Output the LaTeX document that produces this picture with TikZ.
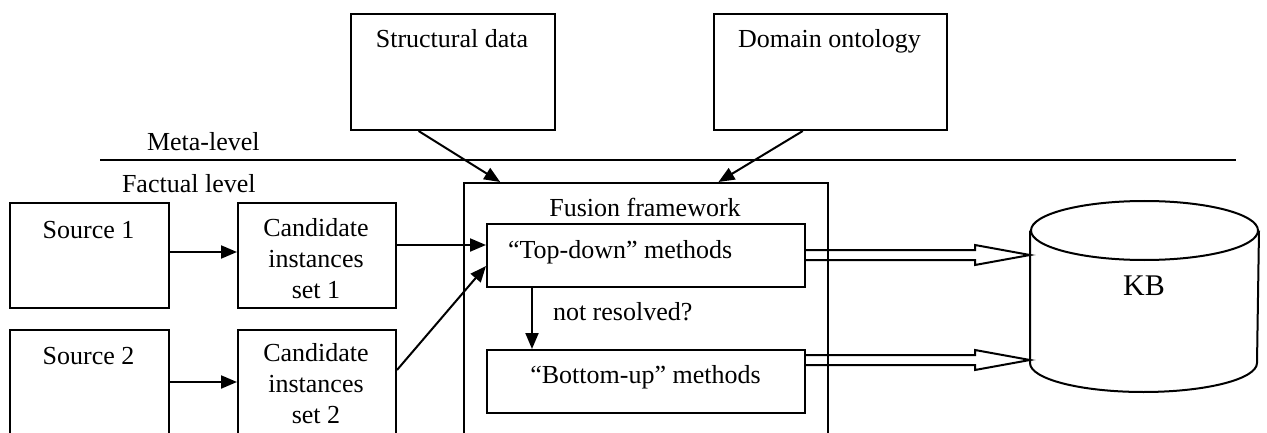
\documentclass[tikz,border=0pt]{standalone}
\usepackage{fontspec}
\setmainfont{Liberation Serif}
\usetikzlibrary{arrows.meta,calc}
\begin{document}
\begin{tikzpicture}[x=1pt,y=-1pt,line width=2pt,
  box/.style={draw, rectangle, inner sep=0pt, anchor=north west},
  txt/.style={font=\fontsize{26}{31}\selectfont, inner sep=0pt, align=center},
  arr/.style={-{Triangle[length=16pt,width=13pt]}}]
\useasboundingbox (0,0) rectangle (1267,433);
\clip (0,0) rectangle (1267,433);
% level coordinates
\coordinate (y245) at (0,245);
\coordinate (y266) at (0,266);
\coordinate (y370) at (0,370);
\coordinate (y255) at (0,255);
\coordinate (y360) at (0,360);
% boxes
\node[box, minimum width=204pt, minimum height=116pt] (sd) at (350,13) {};
\node[box, minimum width=233pt, minimum height=116pt] (do) at (713,13) {};
\node[box, minimum width=159pt, minimum height=105pt] (s1) at (9,202) {};
\node[box, minimum width=159pt, minimum height=120pt] (s2) at (9,329) {};
\node[box, minimum width=158pt, minimum height=105pt] (c1) at (237,202) {};
\node[box, minimum width=158pt, minimum height=120pt] (c2) at (237,329) {};
\node[box, minimum width=364pt, minimum height=270pt] (fus) at (463,182) {};
\node[box, minimum width=318pt, minimum height=63pt] (td) at (486,223) {};
\node[box, minimum width=318pt, minimum height=63pt] (bu) at (486,349) {};
\node[draw=none, inner sep=0pt, minimum width=227pt, minimum height=130.5pt] (kb) at (1144.5,296.75) {};
% cylinder
\draw (kb.north) ellipse [x radius=113.5pt, y radius=29.5pt];
\draw (kb.north west) -- (kb.south west) arc[start angle=180, end angle=360, x radius=113.5pt, y radius=29pt] -- (kb.north east);
% texts
\node[txt, anchor=base] (sdt) at (452,48) {Structural data};
\node[txt, anchor=base] (dot) at (829.5,48) {Domain ontology};
\node[txt, anchor=base west] (mlt) at (146,151) {Meta-level};
\node[txt, anchor=base west] (flt) at (121,193) {Factual level};
\node[txt, anchor=base] (s1t) at (88.5,238) {Source 1};
\node[txt, anchor=base] (s2t) at (88.5,364) {Source 2};
\node[txt, anchor=base] (c1t) at (316,298) {Candidate\\instances\\set 1};
\node[txt, anchor=base] (c2t) at (316,423) {Candidate\\instances\\set 2};
\node[txt, anchor=base] (fft) at (645,216) {Fusion framework};
\node[txt, anchor=base west] (tdt) at (507,258) {“Top-down” methods};
\node[txt, anchor=base] (but) at (645.5,383) {“Bottom-up” methods};
\node[txt, anchor=base west] (nrt) at (552,320) {not resolved?};
\node[txt, font=\fontsize{30}{36}\selectfont, anchor=base] (kbt) at (1144,295) {KB};
% meta line
\coordinate (ml1) at (100,160);
\coordinate (ml2) at (1236,160);
\draw (ml1) -- (ml2);
% arrows
\draw[arr] ($(sd.south west)!0.333!(sd.south east)$) -- ($(fus.north west)!0.1016!(fus.north east)$);
\draw[arr] ($(do.south west)!0.382!(do.south east)$) -- ($(fus.north west)!0.698!(fus.north east)$);
\draw[arr] ([yshift=3.5pt]s1.east) -- ([yshift=3.5pt]c1.west);
\draw[arr] ([yshift=8pt]s2.east) -- ([yshift=8pt]c2.west);
\draw[arr] (c1.east |- y245) -- (td.west |- y245);
\draw[arr] (c2.east |- y370) -- (td.west |- y266);
\draw[arr] ($(td.south west)+(46,0)$) -- ($(bu.north west)+(46,0)$);
% hollow arrows
\coordinate (h1s) at (td.east |- y255);
\coordinate (h1e) at (kb.west |- y255);
\draw ($(h1s)+(0,-5)$) -- ($(h1e)+(-55,-5)$) -- ++(0,-5) -- (h1e) -- ++(-55,10) -- ++(0,-5) -- ($(h1s)+(0,5)$);
\coordinate (h2s) at (bu.east |- y360);
\coordinate (h2e) at (kb.west |- y360);
\draw ($(h2s)+(0,-5)$) -- ($(h2e)+(-55,-5)$) -- ++(0,-5) -- (h2e) -- ++(-55,10) -- ++(0,-5) -- ($(h2s)+(0,5)$);
\end{tikzpicture}
\end{document}
